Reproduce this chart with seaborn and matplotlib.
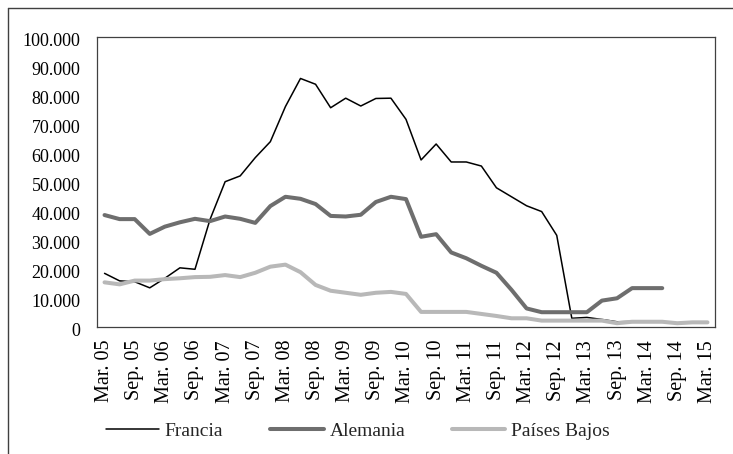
"""Exportaciones trimestrales: Francia, Alemania y Países Bajos (Mar.05 - Mar.15)."""

import matplotlib
matplotlib.use("Agg")
import matplotlib.pyplot as plt
import matplotlib.transforms as mtransforms
from matplotlib.ticker import FuncFormatter
import numpy as np
import pandas as pd
import seaborn as sns

# quarterly periods, Mar.05 .. Mar.15
MONTHS = ["Mar.", "Jun.", "Sep.", "Dic."]
periods = [f"{MONTHS[q % 4]} {5 + q // 4:02d}" for q in range(41)]

francia = [18.4, 15.8, 15.5, 13.4, 16.7, 20.3, 19.8, 37.0, 50.0, 52.0,
           58.3, 63.8, 75.9, 85.6, 83.6, 75.5, 78.8, 76.1, 78.7, 78.8,
           71.5, 57.5, 63.0, 56.8, 56.8, 55.4, 47.9, 44.8, 41.7, 39.7,
           31.5, 2.9, 3.2, 2.5, 1.7, 1.8, 1.8, 1.8, 1.3, 1.5, 1.5]
alemania = [38.5, 37.1, 37.1, 32.0, 34.5, 36.0, 37.2, 36.4, 38.0, 37.2,
            35.8, 41.6, 44.8, 44.1, 42.3, 38.2, 38.0, 38.6, 43.0, 44.8,
            44.0, 31.0, 31.9, 25.6, 23.6, 21.0, 18.6, 12.7, 6.3, 5.0,
            5.0, 5.0, 5.0, 9.0, 9.8, 13.3, 13.3, 13.3]
paises_bajos = [15.3, 14.6, 15.9, 15.9, 16.4, 16.7, 17.1, 17.2, 17.8, 17.1,
                18.6, 20.7, 21.4, 18.8, 14.4, 12.4, 11.7, 11.0, 11.7, 12.0,
                11.3, 5.1, 5.1, 5.1, 5.1, 4.4, 3.7, 2.9, 2.9, 2.1,
                2.1, 2.1, 2.1, 2.1, 1.2, 1.7, 1.7, 1.7, 1.2, 1.5, 1.5]

SERIES = [("Francia", francia, "#000000", 1.1),
          ("Alemania", alemania, "#6e6e6e", 2.9),
          ("Países Bajos", paises_bajos, "#b8b8b8", 2.9)]


def main():
    sns.set_style("white")
    plt.rcParams["font.family"] = ["Liberation Serif", "DejaVu Serif"]

    fig = plt.figure(figsize=(7.33, 4.54), dpi=100)
    ax = fig.add_axes([97 / 733, 1 - 326.7 / 454, 618 / 733, 290 / 454])

    for name, vals, color, lw in SERIES:
        df = pd.DataFrame({"x": np.arange(len(vals)), "y": np.array(vals) * 1000})
        sns.lineplot(data=df, x="x", y="y", ax=ax, color=color, linewidth=lw,
                     label=name, legend=False)

    ax.set_xlim(-0.5, 40.5)
    ax.set_ylim(0, 100000)
    ax.set_yticks(np.arange(0, 100001, 10000))
    ax.yaxis.set_major_formatter(FuncFormatter(lambda v, _: f"{int(v):,}".replace(",", ".")))
    ax.set_xticks(np.arange(0, 41, 2))
    ax.set_xticklabels(periods[::2], rotation=90)
    ax.tick_params(axis="both", length=0, colors="#000000")
    ax.tick_params(axis="y", pad=12, labelsize=13)
    ax.tick_params(axis="x", pad=9.5, labelsize=14.5)
    ax.set_xlabel("")
    ax.set_ylabel("")

    # labels sit a few pixels lower in the original
    shift = mtransforms.ScaledTranslation(0, -3 / 100, fig.dpi_scale_trans)
    for lab in ax.get_yticklabels():
        lab.set_transform(lab.get_transform() + shift)

    for side in ["left", "right", "top", "bottom"]:
        ax.spines[side].set_visible(True)
        ax.spines[side].set_color("#404040")
        ax.spines[side].set_linewidth(0.9)

    handles, labels = ax.get_legend_handles_labels()
    fig.legend(handles, labels, loc="center", bbox_to_anchor=(0.488, 0.051),
               ncol=3, frameon=False, fontsize=14, handlelength=2.75,
               columnspacing=2.4, handletextpad=0.3)

    # outer frame (top and left edges of the original box)
    fig.add_artist(plt.Line2D([8 / 733, 1], [1 - 8 / 454, 1 - 8 / 454],
                              transform=fig.transFigure, color="#404040", linewidth=1))
    fig.add_artist(plt.Line2D([8 / 733, 8 / 733], [0, 1 - 8 / 454],
                              transform=fig.transFigure, color="#404040", linewidth=1))

    fig.savefig("out.png", dpi=100)
    plt.close(fig)


if __name__ == "__main__":
    main()
